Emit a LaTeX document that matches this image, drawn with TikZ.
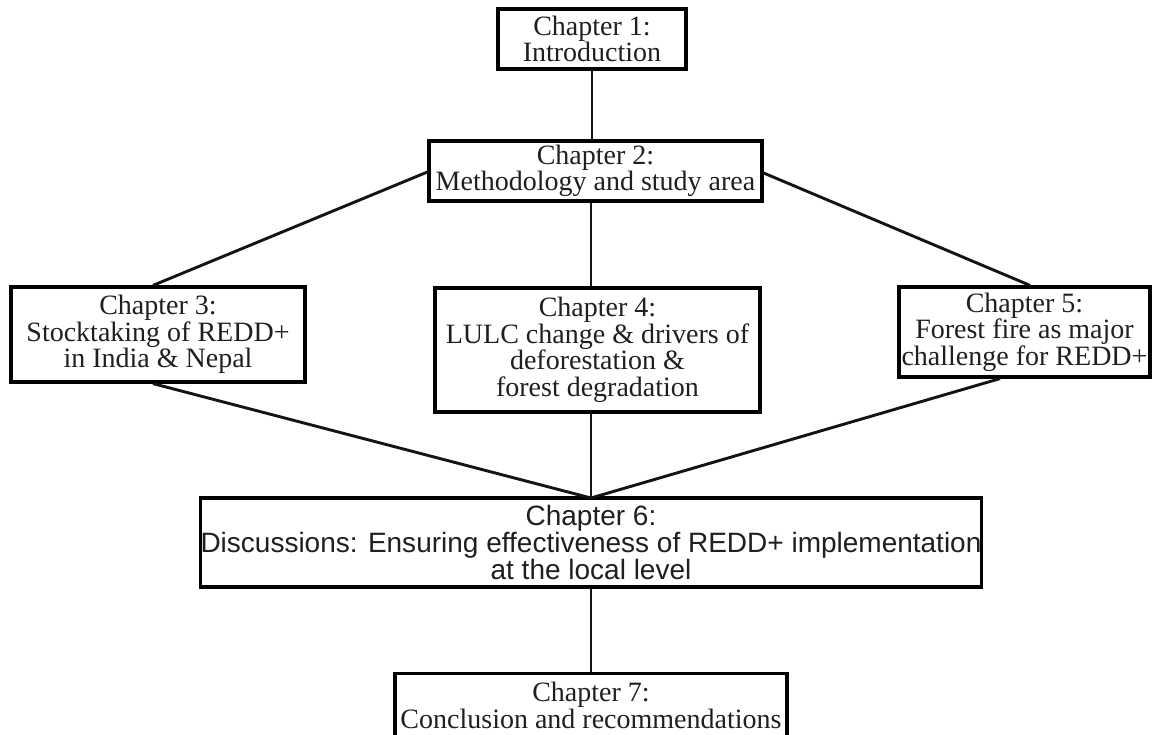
\documentclass[tikz,border=0pt]{standalone}
\usepackage{fontspec}
\setmainfont{Liberation Serif}
\newfontfamily\arialfont{Liberation Sans}
\begin{document}
\begin{tikzpicture}[x=1pt,y=-1pt,
  chbox/.style={draw=black, line width=3.2pt, inner sep=0pt, align=center,
    font=\fontsize{28}{26.5}\selectfont, text=black!88},
  link/.style={draw=black!92, line width=2.9pt}]
\useasboundingbox (0,0) rectangle (1153,735);
\node[chbox, minimum width=188, minimum height=60] (c1) at (592,39) {Chapter 1:\\Introduction};
\node[chbox, minimum width=333, minimum height=60] (c2) at (595.5,171) {Chapter 2:\\Methodology and study area};
\node[chbox, minimum width=294, minimum height=95] (c3) at (158,334.5) {Chapter 3:\\Stocktaking of REDD+\\in India \& Nepal};
\node[chbox, minimum width=325, minimum height=124] (c4) at (597.5,350) {Chapter 4:\\LULC change \& drivers of\\deforestation \&\\forest degradation};
\node[chbox, minimum width=251, minimum height=90] (c5) at (1024.5,332) {Chapter 5:\\Forest fire as major\\challenge for REDD+};
\node[chbox, minimum width=778, minimum height=89, font=\arialfont\fontsize{28}{27}\selectfont] (c6) at (591,542.5) {Chapter 6:\\Discussions: Ensuring effectiveness of REDD+ implementation\\at the local level};
\node[chbox, minimum width=392, minimum height=64, anchor=north] (c7) at (591,672) {Chapter 7:\\Conclusion and recommendations};
\coordinate (j6) at (591,498);
\draw[link] (c1.south) -- (c2.north -| c1.south);
\draw[link] (c2.west |- 0,172) -- (c3.north -| 153,0);
\draw[link] (c2.east |- 0,173) -- (c5.north -| 1030,0);
\draw[link] (c2.south -| 591,0) -- (c4.north -| 591,0);
\draw[link] (c3.south -| 153,0) -- (j6);
\draw[link] (c4.south -| 591,0) -- (j6);
\draw[link] (c5.south -| 1000,0) -- (j6);
\draw[link] (c6.south -| 591,0) -- (c7.north -| 591,0);
\end{tikzpicture}
\end{document}
